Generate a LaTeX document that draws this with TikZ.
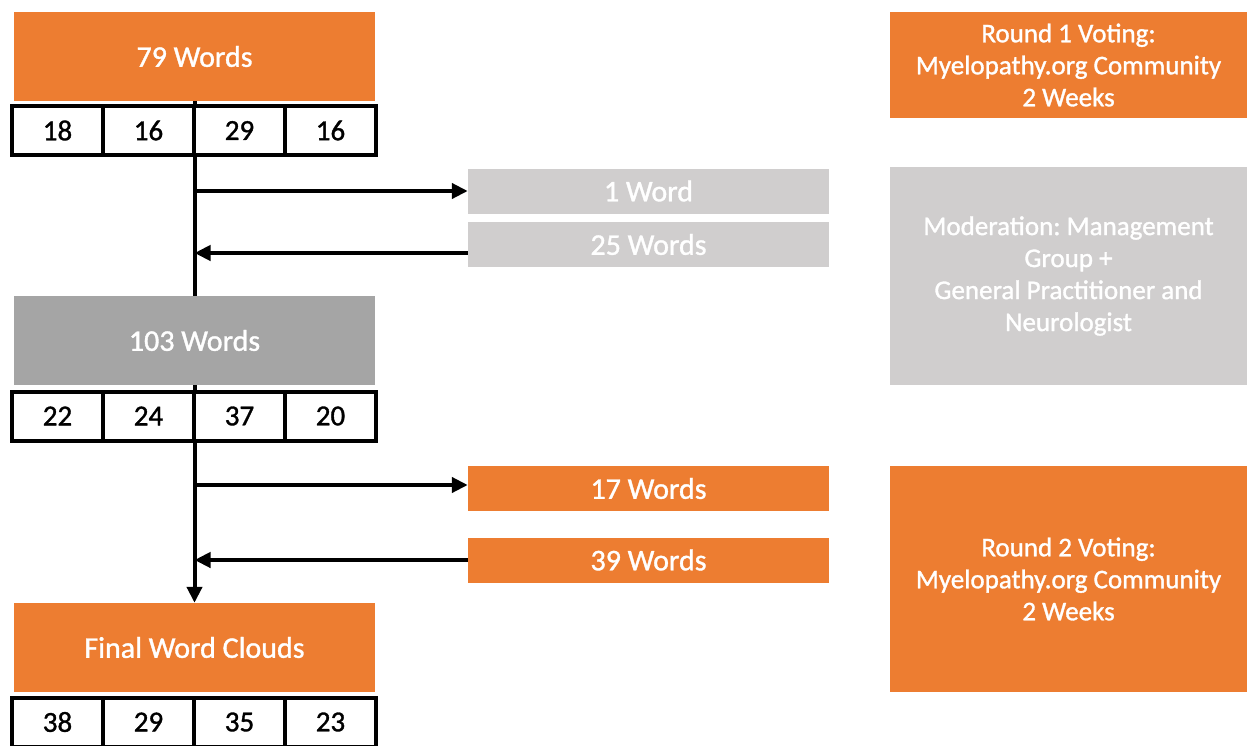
\documentclass[tikz,border=0pt]{standalone}
\usepackage{fontspec}
\setmainfont{Carlito}
\newfontfamily\heavyfont{Carlito}[FakeBold=1.2]
\usetikzlibrary{arrows.meta}
\definecolor{org}{HTML}{ED7D31}
\definecolor{lgray}{HTML}{D0CECE}
\definecolor{dgray}{HTML}{A5A5A5}
\frenchspacing
\begin{document}
\begin{tikzpicture}[x=1pt,y=-1pt,
  mainbox/.style={fill=#1, draw=none, inner sep=0pt, minimum width=361pt, minimum height=89pt, text=white, font=\heavyfont\fontsize{30}{36}\selectfont},
  sidebox/.style={fill=#1, draw=none, inner sep=0pt, minimum width=361pt, minimum height=45pt, text=white, font=\heavyfont\fontsize{30}{36}\selectfont},
  infobox/.style={fill=#1, draw=none, inner sep=0pt, minimum width=357pt, text=white, align=center, font=\heavyfont\fontsize{27}{32}\selectfont},
  cell/.style={draw=black, line width=4pt, fill=white, inner sep=0pt, minimum width=91pt, minimum height=49pt, font=\heavyfont\fontsize{29}{34}\selectfont},
  conn/.style={line width=4pt, draw=black},
  tip/.style={-{Triangle[length=16pt,width=15pt]}}
]
\clip (0,0) rectangle (1247,745);
\fill[white] (0,0) rectangle (1247,745);

% main column
\node[mainbox=org] (w79) at (194.5,56.5) {79 Words};
\node[mainbox=dgray] (w103) at (194.5,340.5) {103 Words};
\node[mainbox=org] (fwc) at (194.5,647.5) {Final Word Clouds};

% side boxes
\node[sidebox=lgray] (w1) at (648.5,191) {1 Word};
\node[sidebox=lgray] (w25) at (648.5,244.5) {25 Words};
\node[sidebox=org] (w17) at (648.5,488.5) {17 Words};
\node[sidebox=org] (w39) at (648.5,560) {39 Words};

% info boxes
\node[infobox=org, minimum height=106pt] (r1) at (1068.5,65) {Round 1 Voting:\\Myelopathy.org Community\\2 Weeks};
\node[infobox=lgray, minimum height=218pt] (mod) at (1068.5,276) {Moderation: Management\\Group +\\General Practitioner and\\Neurologist};
\node[infobox=org, minimum height=226pt] (r2) at (1068.5,579) {Round 2 Voting:\\Myelopathy.org Community\\2 Weeks};

% connector end points
\coordinate (p25) at ([yshift=-8.5pt]w25.west);
\coordinate (p17) at ([yshift=3.5pt]w17.west);

% connectors
\draw[conn] (w79.south) -- (w103.north);
\draw[conn,tip] (w79.south |- w1.west) -- (w1.west);
\draw[conn,tip] (p25) -- (w79.south |- p25);
\draw[conn,tip] (w103.south) -- (fwc.north);
\draw[conn,tip] (w103.south |- p17) -- (p17);
\draw[conn,tip] (w39.west) -- (w103.south |- w39.west);

% count rows
\node[cell] (a1) at (57.5,130.5) {18};
\node[cell] (a2) at (148.5,130.5) {16};
\node[cell] (a3) at (239.5,130.5) {29};
\node[cell] (a4) at (330.5,130.5) {16};

\node[cell] (b1) at (57.5,416) {22};
\node[cell] (b2) at (148.5,416) {24};
\node[cell] (b3) at (239.5,416) {37};
\node[cell] (b4) at (330.5,416) {20};

\node[cell] (c1) at (57.5,722) {38};
\node[cell] (c2) at (148.5,722) {29};
\node[cell] (c3) at (239.5,722) {35};
\node[cell] (c4) at (330.5,722) {23};
\end{tikzpicture}
\end{document}
